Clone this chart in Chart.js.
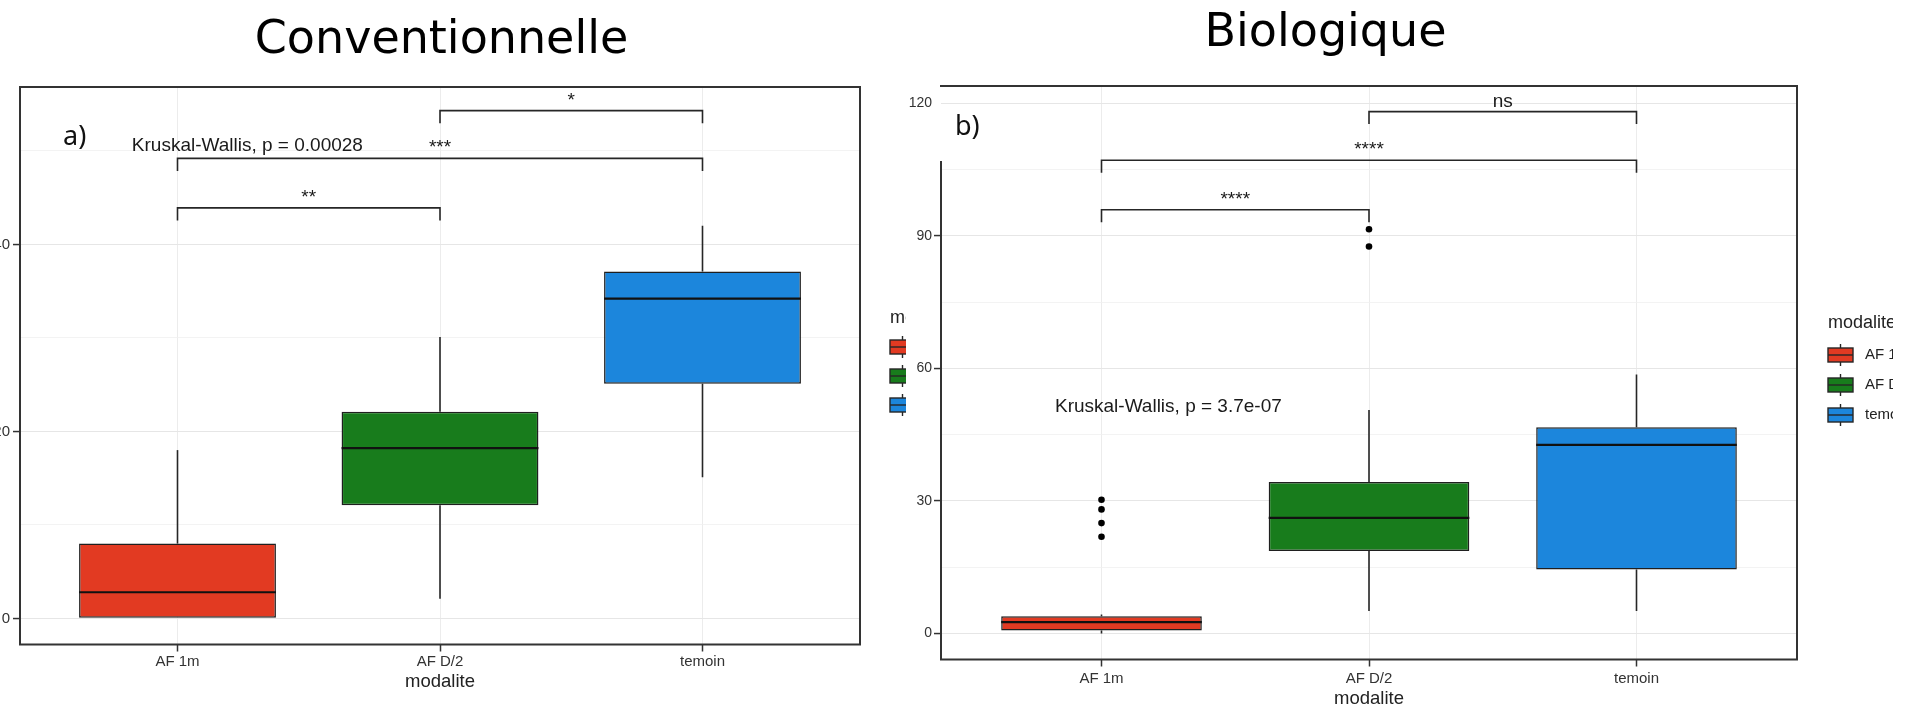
<!DOCTYPE html>
<html>
<head>
<meta charset="utf-8">
<script src="https://cdn.jsdelivr.net/npm/chart.js@4.4.1/dist/chart.umd.min.js"></script>
<style>
  html, body { margin: 0; padding: 0; overflow: hidden; background: #fff; width: 1905px; height: 707px; }
  .panel { position: absolute; top: 0; }
  #pa { left: -30px; width: 936px; height: 707px; }
  #pb { left: 906px; width: 987px; height: 730px; }
</style>
</head>
<body>
<div id="pa" class="panel"><canvas id="chartA"></canvas></div>
<div id="pb" class="panel"><canvas id="chartB"></canvas></div>
<script>
const categories = ['AF 1m', 'AF D/2', 'temoin'];
const boxColors = ['#e23a22', '#187c1c', '#1c86dc'];

// a) Conventionnelle
const aMin = [0, 2.1, 15.1];
const aQ1 = [0, 12.1, 25.1];
const aMedian = [2.8, 18.2, 34.2];
const aQ3 = [8.0, 22.1, 37.1];
const aMax = [18.0, 30.1, 42.0];
const aOutliers = [[], [], []];
const aTicks = [0, 20, 40];
const aTests = [
  { from: 1, to: 2, y: 43.9, label: '**' },
  { from: 1, to: 3, y: 49.2, label: '***' },
  { from: 2, to: 3, y: 54.3, label: '*' }
];

// b) Biologique
const bMin = [0, 5.1, 5.1];
const bQ1 = [0.7, 18.7, 14.5];
const bMedian = [2.6, 26.2, 42.7];
const bQ3 = [3.9, 34.3, 46.7];
const bMax = [4.3, 50.6, 58.6];
const bOutliers = [[30.3, 28.1, 25.0, 21.9], [91.5, 87.6], []];
const bTicks = [0, 30, 60, 90, 120];
const bTests = [
  { from: 1, to: 2, y: 95.9, label: '****' },
  { from: 1, to: 3, y: 107.1, label: '****' },
  { from: 2, to: 3, y: 118.1, label: 'ns' }
];

const FONT = '"Liberation Sans", Arial, sans-serif';
const INK = '#262626';

// whiskers, medians, frame, brackets and the texts around the boxes
function boxExtras(p) {
  return {
    id: 'boxExtras',
    beforeDatasetsDraw(chart) {
      const { ctx, scales: { y } } = chart;
      const bars = chart.getDatasetMeta(0).data;
      ctx.save();
      ctx.strokeStyle = INK;
      ctx.lineWidth = 1.6;
      bars.forEach((bar, i) => {
        ctx.beginPath();
        ctx.moveTo(bar.x, y.getPixelForValue(p.max[i]));
        ctx.lineTo(bar.x, y.getPixelForValue(p.q3[i]));
        ctx.moveTo(bar.x, y.getPixelForValue(p.q1[i]));
        ctx.lineTo(bar.x, y.getPixelForValue(p.min[i]));
        ctx.stroke();
      });
      ctx.restore();
    },
    afterDatasetsDraw(chart) {
      const { ctx, scales: { y } } = chart;
      const bars = chart.getDatasetMeta(0).data;
      ctx.save();
      ctx.strokeStyle = '#111';
      ctx.lineWidth = 2.2;
      bars.forEach((bar, i) => {
        const py = y.getPixelForValue(p.median[i]);
        ctx.beginPath();
        ctx.moveTo(bar.x - bar.width / 2, py);
        ctx.lineTo(bar.x + bar.width / 2, py);
        ctx.stroke();
      });
      ctx.restore();
    },
    afterDraw(chart) {
      const { ctx, chartArea: a, scales: { x, y } } = chart;
      ctx.save();

      // panel border
      ctx.strokeStyle = '#333';
      ctx.lineWidth = 2;
      ctx.beginPath();
      ctx.moveTo(a.left - 1, a.top); ctx.lineTo(a.right, a.top);
      ctx.lineTo(a.right, a.bottom); ctx.lineTo(a.left, a.bottom);
      ctx.lineTo(a.left, a.top + p.leftGap);
      ctx.stroke();

      // comparison brackets
      ctx.strokeStyle = INK;
      ctx.lineWidth = 1.6;
      ctx.fillStyle = '#1a1a1a';
      ctx.font = '19px ' + FONT;
      ctx.textAlign = 'center';
      ctx.textBaseline = 'alphabetic';
      p.tests.forEach(t => {
        const x1 = x.getPixelForValue(t.from), x2 = x.getPixelForValue(t.to);
        const yl = y.getPixelForValue(t.y), yt = y.getPixelForValue(t.y - p.tip);
        ctx.beginPath();
        ctx.moveTo(x1, yt); ctx.lineTo(x1, yl); ctx.lineTo(x2, yl); ctx.lineTo(x2, yt);
        ctx.stroke();
        ctx.fillText(t.label, (x1 + x2) / 2, yl - 5);
      });

      // Kruskal-Wallis label
      ctx.textAlign = 'left';
      ctx.textBaseline = 'middle';
      ctx.fillText(p.kruskal, x.getPixelForValue(p.kruskalAt[0]), y.getPixelForValue(p.kruskalAt[1]));

      // panel letter
      ctx.fillStyle = '#111';
      ctx.font = '27px "Noto Sans", sans-serif';
      ctx.fillText(p.letter, a.left + p.letterAt[0], a.top + p.letterAt[1]);

      // title
      ctx.fillStyle = '#000';
      ctx.font = '46px "DejaVu Sans", sans-serif';
      ctx.textAlign = 'center';
      ctx.textBaseline = 'alphabetic';
      ctx.fillText(p.title, p.titleAt[0], p.titleAt[1]);

      // legend (boxplot keys)
      const L = p.legend;
      ctx.textAlign = 'left';
      ctx.textBaseline = 'middle';
      ctx.fillStyle = '#222';
      ctx.font = '18px ' + FONT;
      ctx.fillText('modalite', L.x, L.titleY);
      categories.forEach((c, i) => {
        const cy = L.y0 + i * L.dy;
        ctx.strokeStyle = INK;
        ctx.lineWidth = 1.4;
        ctx.beginPath();
        ctx.moveTo(L.x + 12.5, cy - 11); ctx.lineTo(L.x + 12.5, cy + 11);
        ctx.stroke();
        ctx.fillStyle = boxColors[i];
        ctx.fillRect(L.x, cy - 7, 25, 14);
        ctx.strokeRect(L.x, cy - 7, 25, 14);
        ctx.beginPath();
        ctx.moveTo(L.x, cy); ctx.lineTo(L.x + 25, cy);
        ctx.stroke();
        ctx.fillStyle = '#222';
        ctx.font = '15px ' + FONT;
        ctx.fillText(c, L.x + 37, cy);
      });
      ctx.restore();
    }
  };
}

function makePanel(id, p) {
  const majors = p.ticks;
  const half = (majors[1] - majors[0]) / 2;
  const isMajor = v => majors.includes(v);
  return new Chart(document.getElementById(id), {
    type: 'bar',
    data: {
      datasets: [
        {
          data: categories.map((c, i) => ({ x: i + 1, y: [p.q1[i], p.q3[i]] })),
          backgroundColor: boxColors,
          borderColor: '#1f1f1f',
          borderWidth: 1.5,
          borderSkipped: false,
          categoryPercentage: 1,
          barPercentage: 0.75
        },
        {
          type: 'scatter',
          data: p.outliers.flatMap((vals, i) => vals.map(v => ({ x: i + 1, y: v }))),
          pointRadius: 3.3,
          pointBackgroundColor: '#000',
          pointBorderWidth: 0
        }
      ]
    },
    options: {
      responsive: true,
      maintainAspectRatio: false,
      animation: false,
      layout: { padding: p.padding },
      plugins: { legend: { display: false }, tooltip: { enabled: false } },
      scales: {
        x: {
          type: 'linear',
          min: 0.4,
          max: 3.6,
          bounds: 'data',
          offset: false,
          afterBuildTicks: s => { s.ticks = categories.map((c, i) => ({ value: i + 1 })); },
          afterFit: s => { s.height = p.xHeight; },
          ticks: {
            callback: v => categories[v - 1],
            font: { family: FONT, size: 15 },
            color: '#333',
            padding: p.xTickPad,
            maxRotation: 0,
            autoSkip: false
          },
          grid: { offset: false, color: '#ececec', lineWidth: 1, tickLength: 7, tickColor: '#333', tickWidth: 1.5 },
          border: { display: false },
          title: {
            display: true,
            text: 'modalite',
            color: '#222',
            font: { family: FONT, size: 18.5 },
            padding: { top: 0, bottom: p.xTitlePad }
          }
        },
        y: {
          type: 'linear',
          min: p.yMin,
          max: p.yMax,
          bounds: 'data',
          afterBuildTicks: s => {
            const vals = [];
            majors.forEach(v => { vals.push(v); if (v + half <= p.yMax) vals.push(v + half); });
            s.ticks = vals.map(v => ({ value: v }));
          },
          afterFit: s => { s.width = p.yWidth; },
          ticks: {
            callback: v => isMajor(v) ? String(v) : '',
            font: { family: FONT, size: p.yFont },
            color: '#333',
            padding: p.yTickPad,
            autoSkip: false
          },
          grid: {
            color: c => isMajor(c.tick.value) ? '#e6e6e6' : '#f0f0f0',
            lineWidth: c => isMajor(c.tick.value) ? 1.1 : 0.8,
            tickLength: 7,
            tickWidth: 1.5,
            tickColor: c => isMajor(c.tick.value) && c.tick.value <= p.tickMarkMax ? '#333' : 'rgba(0,0,0,0)'
          },
          border: { display: false }
        }
      }
    },
    plugins: [boxExtras(p)]
  });
}

makePanel('chartA', {
  min: aMin, q1: aQ1, median: aMedian, q3: aQ3, max: aMax, outliers: aOutliers,
  ticks: aTicks, tests: aTests, tip: 1.35,
  yMin: -2.79, yMax: 56.83, yWidth: 50, yFont: 15, yTickPad: 3, tickMarkMax: 1000,
  xHeight: 62.5, xTickPad: 1.5, xTitlePad: 13.9,
  padding: { top: 87, right: 46, bottom: 0, left: 0 },
  leftGap: 0,
  kruskal: 'Kruskal-Wallis, p = 0.00028', kruskalAt: [0.826, 50.56],
  letter: 'a)', letterAt: [43, 50],
  title: 'Conventionnelle', titleAt: [471.5, 53],
  legend: { x: 920, titleY: 318, y0: 347, dy: 29 }
});

makePanel('chartB', {
  min: bMin, q1: bQ1, median: bMedian, q3: bQ3, max: bMax, outliers: bOutliers,
  ticks: bTicks, tests: bTests, tip: 2.8,
  yMin: -5.86, yMax: 123.9, yWidth: 35, yFont: 14, yTickPad: 2, tickMarkMax: 100,
  xHeight: 70.5, xTickPad: 3, xTitlePad: 20.3,
  padding: { top: 86, right: 96, bottom: 0, left: 0 },
  leftGap: 75,
  kruskal: 'Kruskal-Wallis, p = 3.7e-07', kruskalAt: [0.826, 51.36],
  letter: 'b)', letterAt: [14, 41],
  title: 'Biologique', titleAt: [419.5, 46],
  legend: { x: 922, titleY: 323, y0: 355, dy: 30 }
});
</script>
</body>
</html>
